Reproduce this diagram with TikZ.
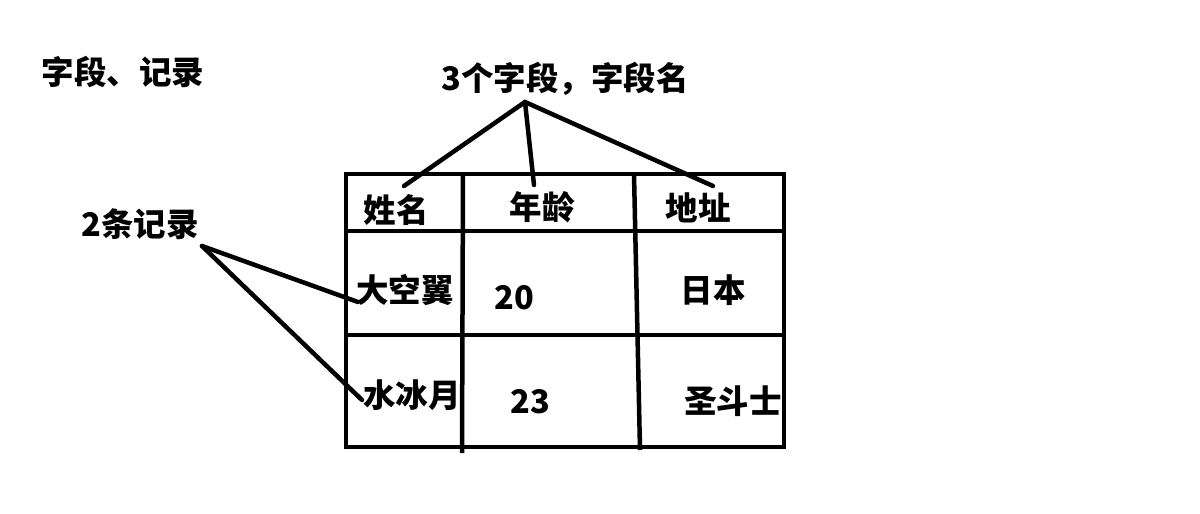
\documentclass[tikz,border=0pt]{standalone}
\usepackage{fontspec}
\newfontfamily\cjk{Noto Sans CJK SC}
\tikzset{
  lbl/.style={font=\cjk\bfseries\fontsize{32.5}{32.5}\selectfont, inner sep=0pt},
  grid/.style={line width=4.5pt},
  link/.style={line width=4.5pt, line cap=round},
}
\begin{document}
\begin{tikzpicture}[x=1pt,y=-1pt]
\useasboundingbox[fill=white] (0,0) rectangle (1200,514);
\node[lbl] (title) at (123,72) {字段、记录};
\node[lbl] (fields) at (565,79) {3个字段，字段名};
\node[lbl] (records) at (140,224) {2条记录};
\node[lbl] (name) at (396,210) {姓名};
\node[lbl] (age) at (542,207) {年龄};
\node[lbl] (addr) at (698,208) {地址};
\node[lbl] (nameA) at (405,290) {大空翼};
\node[lbl] (ageA) at (514,298) {20};
\node[lbl] (addrA) at (713,290) {日本};
\node[lbl] (nameB) at (412,395) {水冰月};
\node[lbl] (ageB) at (530,402) {23};
\node[lbl] (addrB) at (733,401) {圣斗士};
\draw[grid] (346,174) rectangle (784,447);
\draw[grid] (346,231) -- (784,231);
\draw[grid] (346,335) -- (784,335);
\draw[grid] (463,174) -- (462,453);
\draw[grid] (634,174) -- (640,450);
\coordinate (fieldsTip) at (525,102);
\coordinate (nameEnd) at (404,186);
\coordinate (ageEnd) at (534,185);
\coordinate (addrEnd) at (713,186);
\coordinate (recordsTip) at (202,246);
\coordinate (rowA) at (358,302);
\coordinate (rowB) at (362,400);
\draw[link] (fieldsTip) -- (nameEnd);
\draw[link] (fieldsTip) -- (ageEnd);
\draw[link] (fieldsTip) -- (addrEnd);
\draw[link] (recordsTip) -- (rowA);
\draw[link] (recordsTip) -- (rowB);
\end{tikzpicture}
\end{document}
